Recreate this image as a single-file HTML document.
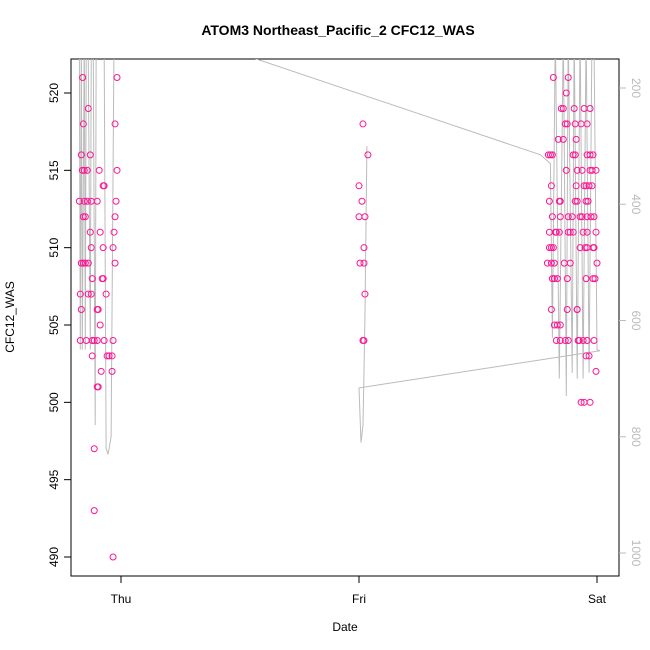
<!DOCTYPE html>
<html><head><meta charset="utf-8"><style>
html,body{margin:0;padding:0;background:#fff;}
svg{display:block;font-family:"Liberation Sans",sans-serif;}
</style></head><body>
<svg id="chart" width="650" height="650" xmlns="http://www.w3.org/2000/svg">
<rect width="650" height="650" fill="#fff"/>
<defs><clipPath id="clip"><rect x="71" y="59" width="548" height="517"/></clipPath></defs>
<text x="338" y="35" text-anchor="middle" font-weight="bold" font-size="14">ATOM3 Northeast_Pacific_2 CFC12_WAS</text>
<text x="345" y="631" text-anchor="middle" font-size="12">Date</text>
<text transform="translate(14,317) rotate(-90)" text-anchor="middle" font-size="12">CFC12_WAS</text>
<rect x="71" y="59" width="548" height="517" fill="none" stroke="#000"/>
<g id="lines" clip-path="url(#clip)"></g>
<g id="pts" clip-path="url(#clip)"></g>
<g id="axes"></g>
</svg>
<script>
// x in hours from Thu 00:00
const xTickLabels=["Thu","Fri","Sat"];
const xTickHours=[0,24,48];
const yTicks=[490,495,500,505,510,515,520];
const y2Ticks=[200,400,600,800,1000];
const ptHours=[-3.87,-0.4,-3.3,-3.8,-0.6,-4.0,-3.1,-3.9,-3.7,-3.4,-2.2,-0.4,-1.8,-1.7,-4.2,-3.7,-3.4,-3.0,-2.4,-0.5,-3.8,-3.6,-0.6,-3.1,-2.1,-0.7,-3.0,-1.8,-0.8,-4.0,-3.8,-3.6,-3.3,-0.6,-2.9,-1.9,-1.8,-4.1,-3.3,-3.0,-1.5,-4.0,-2.4,-2.3,-2.1,-4.1,-3.5,-2.9,-2.7,-2.4,-1.7,-0.8,-2.9,-1.4,-1.2,-0.9,-2.0,-0.9,-2.4,-2.3,-2.7,-2.7,-0.8,
24.4,24.9,24.0,24.3,24.0,24.6,24.5,24.1,24.5,24.6,24.4,24.5,
43.6,45.1,44.9,44.4,44.6,45.7,46.7,47.3,44.8,45.0,45.8,46.4,47.0,44.1,44.6,45.9,43.1,43.3,43.5,45.6,45.8,47.0,47.3,47.6,44.9,46.0,46.5,47.3,47.5,47.9,43.4,45.9,46.7,46.9,47.2,47.5,43.2,44.2,44.3,45.8,46.0,46.9,47.1,44.3,47.0,47.7,43.5,45.1,45.5,46.3,46.5,47.4,43.9,45.3,46.6,47.0,47.9,43.2,43.8,44.2,45.1,45.6,46.3,46.8,47.0,47.6,47.7,43.2,43.4,43.6,44.7,45.3,48.0,43.0,43.4,43.7,45.0,46.9,47.6,47.8,43.5,43.7,44.0,46.0,43.4,45.0,46.0,43.7,44.0,44.3,44.8,45.1,46.1,46.2,47.0,47.7,43.9,44.3,46.6,46.9,47.2,47.9,46.7,46.4,47.3];
const ptValues=[521,521,519,518,518,516,516,515,515,515,515,515,514,514,513,513,513,513,513,513,512,512,512,511,511,511,510,510,510,509,509,509,509,509,508,508,508,507,507,507,507,506,506,506,505,504,504,504,504,504,504,504,503,503,503,503,502,502,501,501,497,493,490,
518,516,514,513,512,512,510,509,509,507,504,504,
521,521,520,519,519,519,519,519,518,518,518,518,518,517,517,517,516,516,516,516,516,516,516,516,515,515,515,515,515,515,514,514,514,514,514,514,513,513,513,513,513,513,513,512,512,512,512,512,512,512,512,512,511,511,511,511,511,511,511,511,511,511,510,510,510,510,510,510,510,510,509,509,509,509,509,509,508,508,508,508,508,508,508,506,506,506,506,505,505,505,504,504,504,504,504,504,504,504,504,503,503,502,500,500,500,498,498];
// secondary series (right axis), data order Thu -> Sat -> Fri
const lineHours=[-4.2,-4.1,-4.0,-3.9,-3.7,-3.6,-3.5,-3.3,-3.1,-3.0,-2.8,-2.6,-2.5,-2.3,-2.0,-1.7,-1.5,-1.3,-1.0,-0.7,-0.5,-0.3,-0.1,
42.3,43.3,43.5,43.8,44.2,44.6,44.9,45.1,45.5,45.7,46.0,46.3,46.6,46.9,47.2,47.5,47.7,48.0,48.3,
24.0,24.2,24.4,24.6,24.8];
const linePress=[100,650,100,650,100,650,100,150,650,100,120,780,100,150,110,100,820,830,800,100,120,95,71,
315,330,630,100,700,100,730,100,690,100,700,100,700,100,690,100,120,650,652,
716,810,780,600,300];
const X0=121,PXH=(359-121)/24;
const x=h=>X0+h*PXH;
const y=v=>93+(520-v)*(464/30);
const y2=p=>88+(p-200)*(465/800);
const NS="http://www.w3.org/2000/svg";
function mk(t,a,parent){const e=document.createElementNS(NS,t);for(const k in a)e.setAttribute(k,a[k]);parent.appendChild(e);return e;}
const L=document.getElementById('lines'),P=document.getElementById('pts'),A=document.getElementById('axes');
let d=lineHours.map((h,i)=>(i?'L':'M')+x(h).toFixed(1)+','+y2(linePress[i]).toFixed(1)).join(' ');
const pl=mk('path',{d:d,fill:'none',stroke:'#bbbbbb','stroke-width':1},L);


ptHours.forEach((h,i)=>{
 const c=mk('circle',{cx:x(h),cy:y(ptValues[i]),r:3,fill:'none',stroke:'#ff1493','stroke-width':1},P);
 
 
});
xTickHours.forEach((h,i)=>{
 const t=mk('line',{x1:x(h),x2:x(h),y1:576,y2:583,stroke:'#000'},A);
 
 
 const s=mk('text',{x:x(h),y:603,'text-anchor':'middle','font-size':12},A);s.textContent=xTickLabels[i];
 
 
});
yTicks.forEach(v=>{
 const t=mk('line',{x1:64,x2:71,y1:y(v),y2:y(v),stroke:'#000'},A);
 
 
 const s=mk('text',{transform:`translate(58,${y(v)}) rotate(-90)`,'text-anchor':'middle','font-size':12},A);s.textContent=v;
 
 
});
y2Ticks.forEach(p=>{
 const t=mk('line',{x1:619,x2:626,y1:y2(p),y2:y2(p),stroke:'#bbbbbb'},A);
 
 
 const s=mk('text',{transform:`translate(632,${y2(p)}) rotate(90)`,'text-anchor':'middle','font-size':12,fill:'#bbbbbb'},A);s.textContent=p;
 
 
});
</script>
</body></html>
